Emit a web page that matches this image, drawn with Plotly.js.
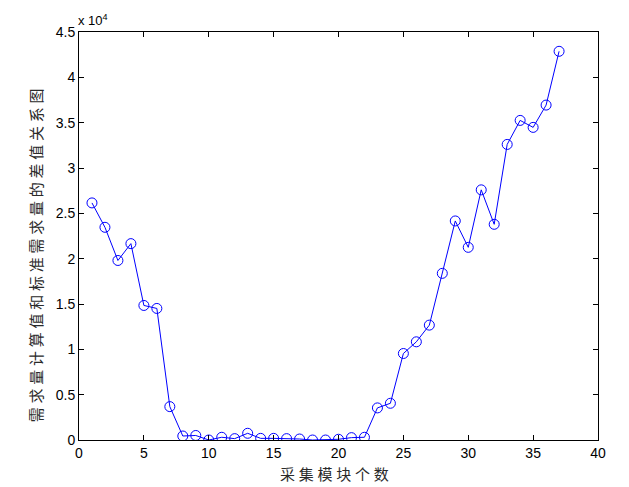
<!DOCTYPE html>
<html>
<head>
<meta charset="utf-8">
<script src="https://cdn.plot.ly/plotly-3.0.1.min.js"></script>
<style>html,body{margin:0;padding:0;background:#fff;}#chart{width:629px;height:487px;}</style>
</head>
<body>
<div id="chart"></div>
<script>
// Number of collection modules
const modules = [1,2,3,4,5,6,7,8,9,10,11,12,13,14,15,16,17,18,19,20,21,22,23,24,25,26,27,28,29,30,31,32,33,34,35,36,37];
// Difference between computed demand and standard demand
const diffValues = [26150,23460,19800,21660,14840,14510,3680,440,500,0,300,150,740,180,180,150,110,0,0,80,260,300,3540,4050,9540,10830,12670,18380,24160,21250,27590,23790,32600,35250,34480,36940,42870];
const xTicks = [0,5,10,15,20,25,30,35,40];
const yTicks = [0,0.5,1,1.5,2,2.5,3,3.5,4,4.5];
const yTickLabels = ["0","0.5","1","1.5","2","2.5","3","3.5","4","4.5"];
const scale = 1e4;
const xTitle = "采集模块个数";
const yTitle = "需求量计算值和标准需求量的差值关系图";

const spaced = s => Array.from(s).join('\u2005');

const trace = {
  x: modules,
  y: diffValues.map(v => v / scale),
  type: 'scatter',
  mode: 'lines+markers',
  line: {color: '#0000ff', width: 1},
  marker: {symbol: 'circle-open', size: 10, color: '#0000ff', line: {width: 1, color: '#0000ff'}},
  hoverinfo: 'none'
};

const tickFont = {family: 'Arial, "Liberation Sans", sans-serif', size: 14, color: '#000'};
const axisCommon = {
  showgrid: false, zeroline: false, showline: true, mirror: 'ticks',
  linecolor: '#000', linewidth: 1, ticks: 'inside', ticklen: 5, tickcolor: '#000',
  tickfont: tickFont
};
const titleFont = {family: '"Noto Sans CJK SC", sans-serif', size: 15, color: '#2a2a2a'};

const layout = {
  width: 629, height: 487,
  margin: {l: 79, r: 31, t: 32, b: 47},
  paper_bgcolor: '#fff', plot_bgcolor: '#fff',
  showlegend: false,
  xaxis: Object.assign({}, axisCommon, {
    range: [0, 40], tickvals: xTicks, ticktext: xTicks.map(String)
  }),
  yaxis: Object.assign({}, axisCommon, {
    range: [0, 4.5], tickvals: yTicks, ticktext: yTickLabels
  }),
  annotations: [{
    xref: 'paper', yref: 'paper', x: 0, y: 1, xanchor: 'left', yanchor: 'bottom',
    xshift: -3, yshift: 2, showarrow: false,
    text: 'x 10<sup>4</sup>',
    font: {family: 'Arial, "Liberation Sans", sans-serif', size: 13, color: '#000'}
  }, {
    xref: 'paper', yref: 'paper', x: 0.493, y: -0.081, xanchor: 'center', yanchor: 'middle',
    showarrow: false, text: spaced(xTitle), font: titleFont
  }, {
    xref: 'paper', yref: 'paper', x: -0.0848, y: 0.453, xanchor: 'center', yanchor: 'middle',
    showarrow: false, textangle: -90, text: spaced(yTitle), font: titleFont
  }]
};

Plotly.newPlot('chart', [trace], layout, {staticPlot: true, displayModeBar: false});
</script>
</body>
</html>
